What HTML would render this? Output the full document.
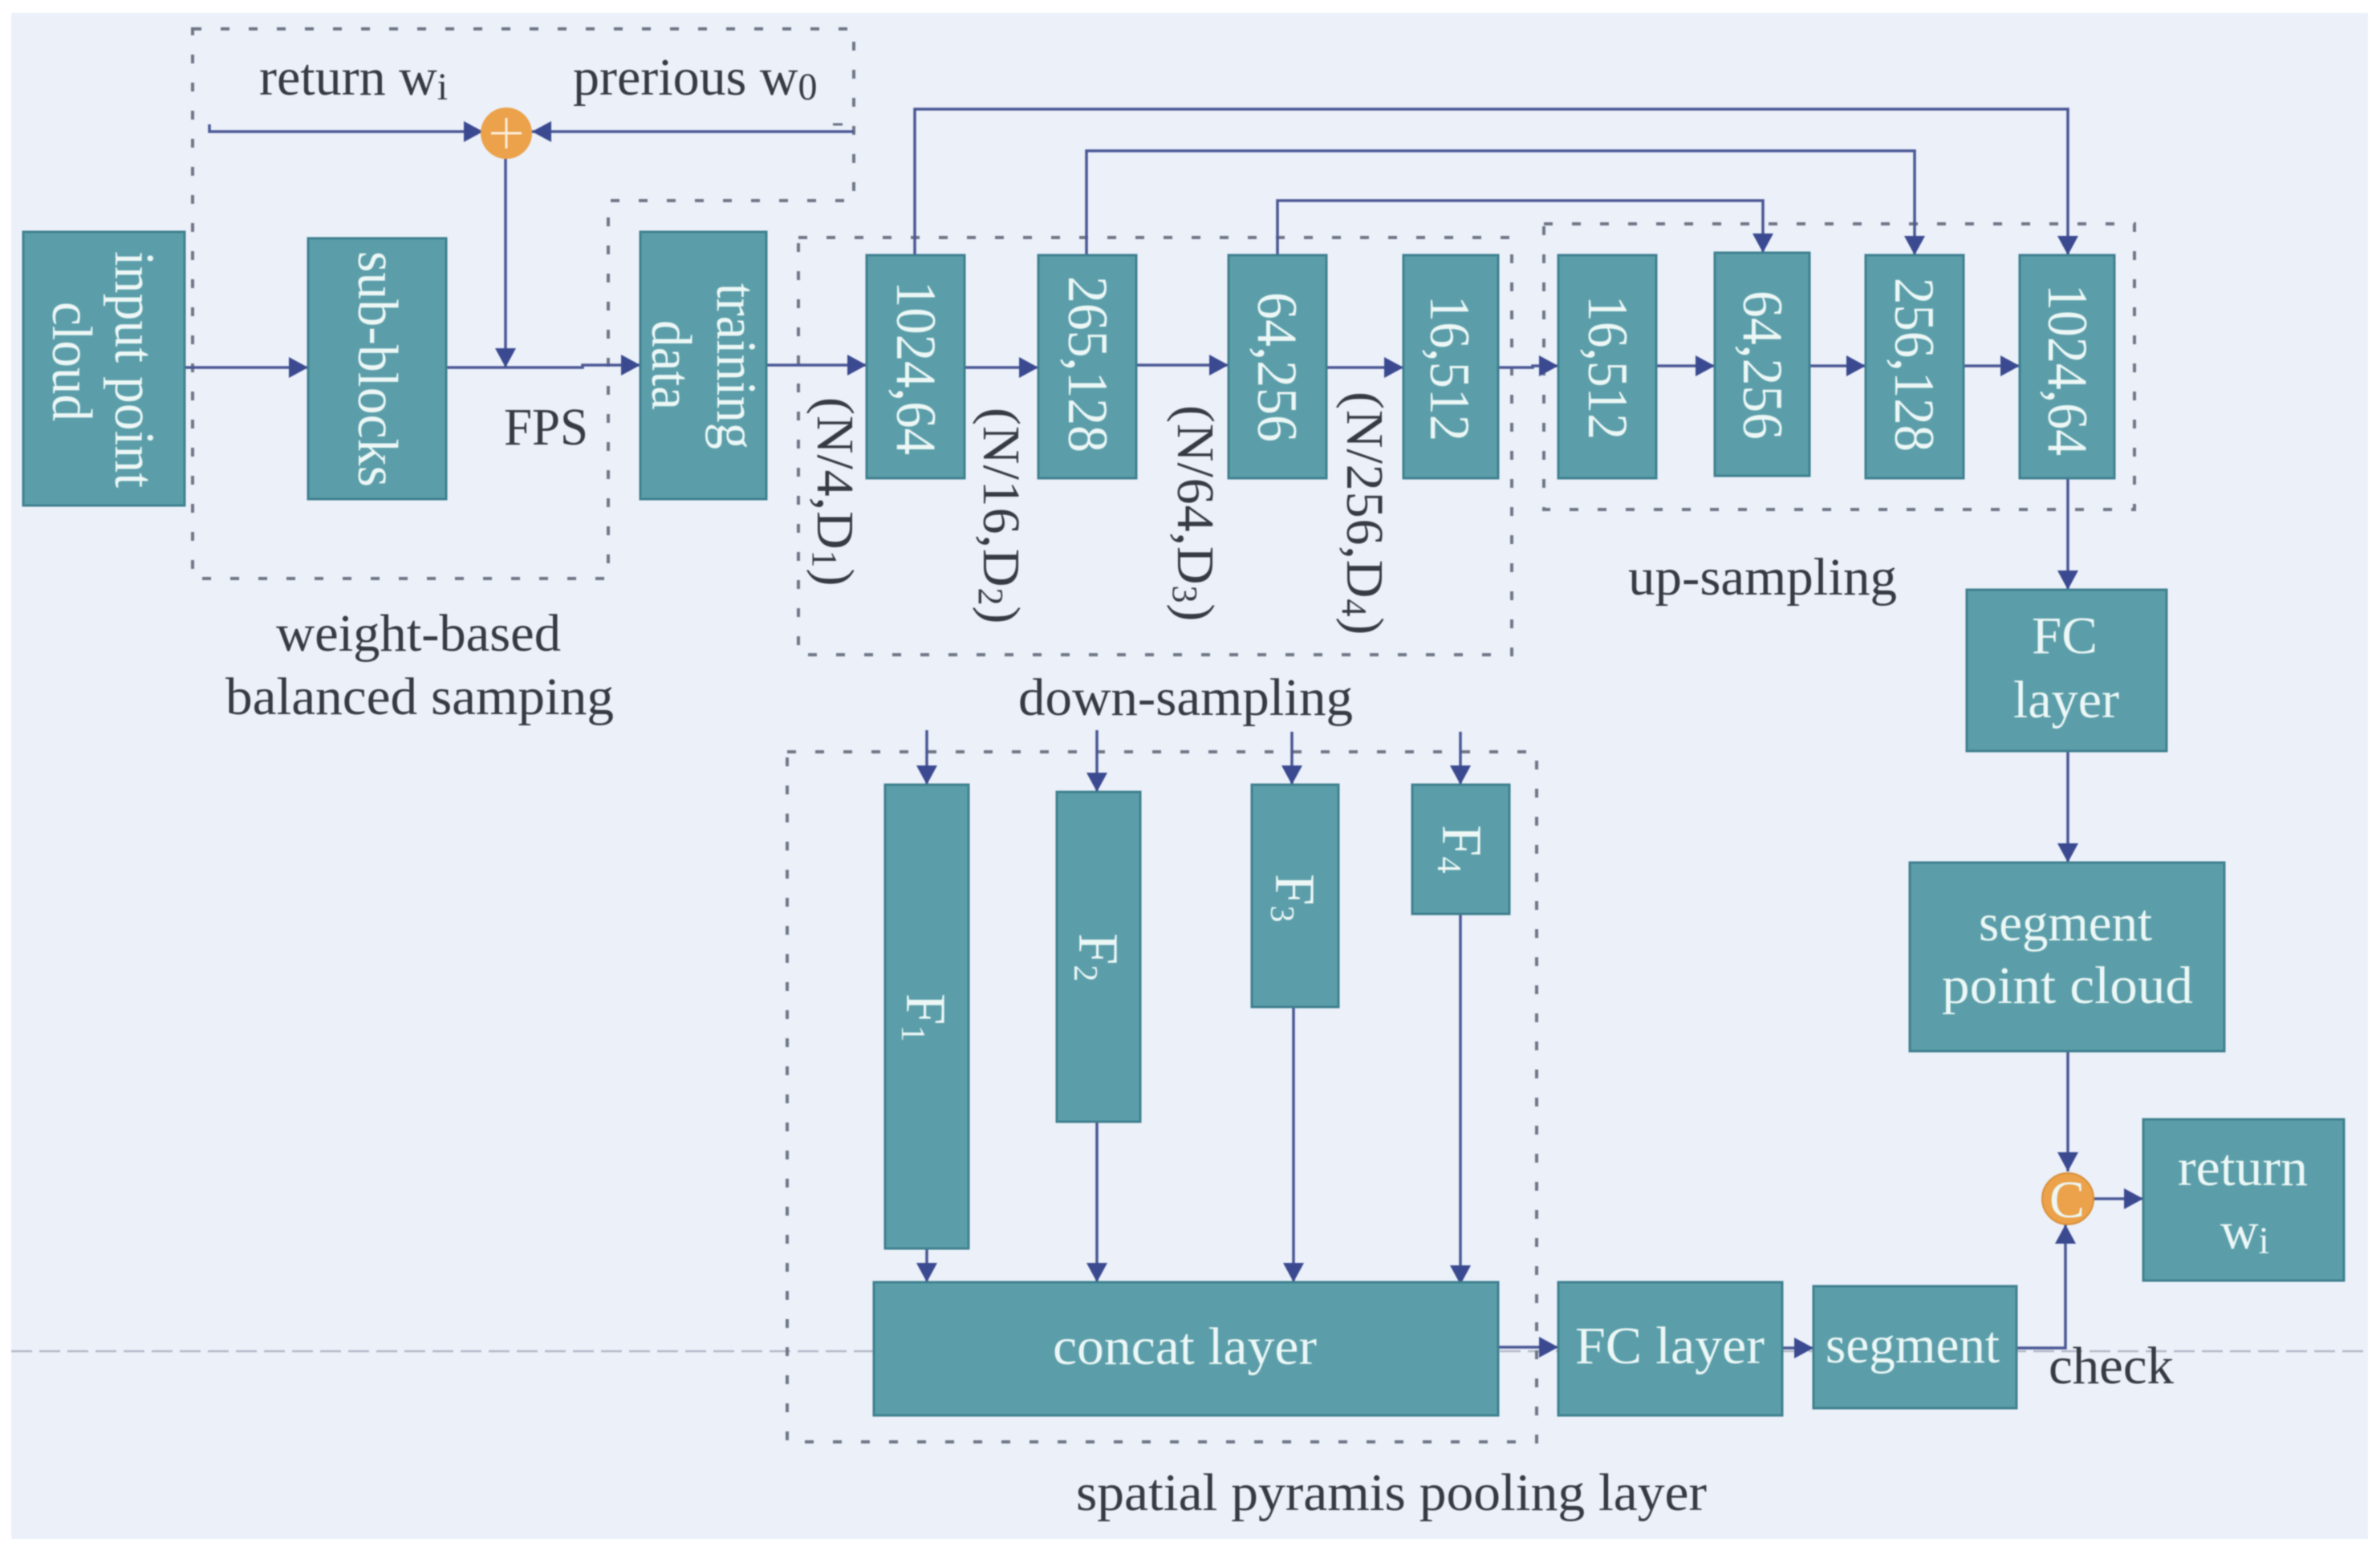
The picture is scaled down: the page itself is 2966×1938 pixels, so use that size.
<!DOCTYPE html>
<html><head><meta charset="utf-8"><style>
html,body{margin:0;padding:0;background:#fff}
svg{display:block;filter:blur(0.8px)}
text{font-family:"Liberation Serif",serif;font-size:66px}
.k{fill:#363a42}
.w{fill:#ecf7f6}
.r{font-size:71px}
.n{letter-spacing:0.9px}
.b{fill:#5b9ea9;stroke:#3f8090;stroke-width:3}
.l{fill:none;stroke:#4a5795;stroke-width:3.5}
.d{fill:none;stroke:#6f7686;stroke-width:4;stroke-dasharray:11 24}
.a{fill:#3b4a90}
</style></head><body>
<svg width="2966" height="1938" viewBox="0 0 2966 1938" xmlns="http://www.w3.org/2000/svg">
<rect x="14" y="16" width="2937" height="1902" fill="#ebf0f9"/>
<line x1="14" y1="1684" x2="2951" y2="1684" stroke="#b4b8c6" stroke-width="2.5" stroke-dasharray="26 9"/>

<!-- dashed groups -->
<path class="d" d="M240 36H1064V250H758V721H240Z"/>
<path d="M1038 155H1050" stroke="#6a7182" stroke-width="3"/>
<rect class="d" x="995" y="296" width="889" height="520"/>
<rect class="d" x="1924" y="279" width="736" height="356"/>
<rect class="d" x="981" y="937" width="934" height="860"/>

<!-- connectors -->
<path class="l" d="M261 155V164H602"/>
<path class="l" d="M1064 164H663"/>
<path class="l" d="M630 198V458"/>
<path class="l" d="M230 458H384"/>
<path class="l" d="M556 458H726V455H798"/>
<path class="l" d="M955 455H1080"/>
<path class="l" d="M1202 458H1294"/>
<path class="l" d="M1416 455H1531"/>
<path class="l" d="M1653 458H1749"/>
<path class="l" d="M1867 458H1910V456H1942"/>
<path class="l" d="M2064 456H2137"/>
<path class="l" d="M2255 456H2325"/>
<path class="l" d="M2447 456H2517"/>
<path class="l" d="M1140 318V136H2577V318"/>
<path class="l" d="M1354 318V188H2386V318"/>
<path class="l" d="M1592 318V250H2197V315"/>
<path class="l" d="M2577 596V735"/>
<path class="l" d="M2577 936V1075"/>
<path class="l" d="M2577 1310V1460"/>
<path class="l" d="M2609 1494H2671"/>
<path class="l" d="M2513 1680H2574V1526"/>
<path class="l" d="M2221 1680H2260"/>
<path class="l" d="M1867 1679H1942"/>
<path class="l" d="M1155 910V978"/>
<path class="l" d="M1367 910V987"/>
<path class="l" d="M1610 912V978"/>
<path class="l" d="M1820 912V978"/>
<path class="l" d="M1155 1556V1598"/>
<path class="l" d="M1367 1398V1598"/>
<path class="l" d="M1612 1255V1598"/>
<path class="l" d="M1820 1139V1601"/>

<!-- arrowheads -->
<g class="a">
<polygon points="578,151 602,164 578,177"/>
<polygon points="687,151 663,164 687,177"/>
<polygon points="617,434 630,458 643,434"/>
<polygon points="360,445 384,458 360,471"/>
<polygon points="774,442 798,455 774,468"/>
<polygon points="1056,442 1080,455 1056,468"/>
<polygon points="1270,445 1294,458 1270,471"/>
<polygon points="1507,442 1531,455 1507,468"/>
<polygon points="1725,445 1749,458 1725,471"/>
<polygon points="1918,443 1942,456 1918,469"/>
<polygon points="2113,443 2137,456 2113,469"/>
<polygon points="2301,443 2325,456 2301,469"/>
<polygon points="2493,443 2517,456 2493,469"/>
<polygon points="2564,294 2577,318 2590,294"/>
<polygon points="2373,294 2386,318 2399,294"/>
<polygon points="2184,291 2197,315 2210,291"/>
<polygon points="2564,711 2577,735 2590,711"/>
<polygon points="2564,1051 2577,1075 2590,1051"/>
<polygon points="2564,1436 2577,1460 2590,1436"/>
<polygon points="2561,1550 2574,1526 2587,1550"/>
<polygon points="2647,1481 2671,1494 2647,1507"/>
<polygon points="2236,1667 2260,1680 2236,1693"/>
<polygon points="1918,1666 1942,1679 1918,1692"/>
<polygon points="1142,954 1155,978 1168,954"/>
<polygon points="1354,963 1367,987 1380,963"/>
<polygon points="1597,954 1610,978 1623,954"/>
<polygon points="1807,954 1820,978 1833,954"/>
<polygon points="1142,1574 1155,1598 1168,1574"/>
<polygon points="1354,1574 1367,1598 1380,1574"/>
<polygon points="1599,1574 1612,1598 1625,1574"/>
<polygon points="1807,1577 1820,1601 1833,1577"/>
</g>

<!-- boxes -->
<rect class="b" x="29" y="289" width="201" height="341"/>
<rect class="b" x="384" y="297" width="172" height="325"/>
<rect class="b" x="798" y="289" width="157" height="333"/>
<rect class="b" x="1080" y="318" width="122" height="278"/>
<rect class="b" x="1294" y="318" width="122" height="278"/>
<rect class="b" x="1531" y="318" width="122" height="278"/>
<rect class="b" x="1749" y="318" width="118" height="278"/>
<rect class="b" x="1942" y="318" width="122" height="278"/>
<rect class="b" x="2137" y="315" width="118" height="278"/>
<rect class="b" x="2325" y="318" width="122" height="278"/>
<rect class="b" x="2517" y="318" width="118" height="278"/>
<rect class="b" x="2451" y="735" width="249" height="201"/>
<rect class="b" x="2380" y="1075" width="392" height="235"/>
<rect class="b" x="2671" y="1395" width="250" height="201"/>
<rect class="b" x="1103" y="978" width="104" height="578"/>
<rect class="b" x="1317" y="987" width="104" height="411"/>
<rect class="b" x="1560" y="978" width="108" height="277"/>
<rect class="b" x="1760" y="978" width="121" height="161"/>
<rect class="b" x="1089" y="1598" width="778" height="166"/>
<rect class="b" x="1942" y="1598" width="279" height="166"/>
<rect class="b" x="2260" y="1603" width="253" height="152"/>

<!-- circles -->
<circle cx="631" cy="166" r="32" fill="#eba24a"/>
<path d="M631 147V185M612 166H650" stroke="#fbeedd" stroke-width="3" fill="none"/>
<circle cx="2577" cy="1494" r="32" fill="#eba24a" stroke="#d98f38" stroke-width="2"/>
<text class="w" x="2554" y="1517" textLength="44" lengthAdjust="spacingAndGlyphs">C</text>

<!-- dark labels -->
<g class="k">
<text x="323" y="118">return w<tspan font-size="48" dy="6">i</tspan></text>
<text x="714" y="118">prerious w<tspan font-size="48" dy="6">0</tspan></text>
<text x="628" y="554" textLength="105" lengthAdjust="spacingAndGlyphs">FPS</text>
<text x="344" y="811" textLength="355" lengthAdjust="spacingAndGlyphs">weight-based</text>
<text x="281" y="890" textLength="484" lengthAdjust="spacingAndGlyphs">balanced samping</text>
<text x="1269" y="891" textLength="417" lengthAdjust="spacingAndGlyphs">down-sampling</text>
<text x="2029" y="741" textLength="335" lengthAdjust="spacingAndGlyphs">up-sampling</text>
<text x="1341" y="1882" textLength="786" lengthAdjust="spacingAndGlyphs">spatial pyramis pooling layer</text>
<text x="2553" y="1724" textLength="156" lengthAdjust="spacingAndGlyphs">check</text>
<text class="n" transform="translate(1019,495) rotate(90)">(N/4,D<tspan font-size="44" dy="6">1</tspan><tspan dy="-6">)</tspan></text>
<text class="n" transform="translate(1226,508) rotate(90)">(N/16,D<tspan font-size="44" dy="6">2</tspan><tspan dy="-6">)</tspan></text>
<text class="n" transform="translate(1468,505) rotate(90)">(N/64,D<tspan font-size="44" dy="6">3</tspan><tspan dy="-6">)</tspan></text>
<text class="n" transform="translate(1679,488) rotate(90)">(N/256,D<tspan font-size="44" dy="6">4</tspan><tspan dy="-6">)</tspan></text>
</g>

<!-- white labels -->
<g class="w">
<text class="r" transform="translate(144,313) rotate(90)" textLength="295" lengthAdjust="spacingAndGlyphs">input point</text>
<text class="r" transform="translate(66,376) rotate(90)" textLength="149" lengthAdjust="spacingAndGlyphs">cloud</text>
<text class="r" transform="translate(447,313) rotate(90)" textLength="294" lengthAdjust="spacingAndGlyphs">sub-blocks</text>
<text class="r" transform="translate(894,353) rotate(90)" textLength="207" lengthAdjust="spacingAndGlyphs">training</text>
<text class="r" transform="translate(813,399) rotate(90)" textLength="112" lengthAdjust="spacingAndGlyphs">data</text>
<text class="r" transform="translate(1118,350) rotate(90)" textLength="217" lengthAdjust="spacingAndGlyphs">1024,64</text>
<text class="r" transform="translate(1332,344) rotate(90)" textLength="220" lengthAdjust="spacingAndGlyphs">265,128</text>
<text class="r" transform="translate(1568,364) rotate(90)" textLength="187" lengthAdjust="spacingAndGlyphs">64,256</text>
<text class="r" transform="translate(1783,368) rotate(90)" textLength="182" lengthAdjust="spacingAndGlyphs">16,512</text>
<text class="r" transform="translate(1980,368) rotate(90)" textLength="180" lengthAdjust="spacingAndGlyphs">16,512</text>
<text class="r" transform="translate(2173,362) rotate(90)" textLength="186" lengthAdjust="spacingAndGlyphs">64,256</text>
<text class="r" transform="translate(2362,346) rotate(90)" textLength="217" lengthAdjust="spacingAndGlyphs">256,128</text>
<text class="r" transform="translate(2553,354) rotate(90)" textLength="214" lengthAdjust="spacingAndGlyphs">1024,64</text>
<text class="r" transform="translate(1130,1238) rotate(90)">F<tspan font-size="42" dy="6">1</tspan></text>
<text class="r" transform="translate(1345,1163) rotate(90)">F<tspan font-size="42" dy="6">2</tspan></text>
<text class="r" transform="translate(1590,1089) rotate(90)">F<tspan font-size="42" dy="6">3</tspan></text>
<text class="r" transform="translate(1798,1028) rotate(90)">F<tspan font-size="42" dy="6">4</tspan></text>
<text x="2532" y="814" textLength="82" lengthAdjust="spacingAndGlyphs">FC</text>
<text x="2509" y="894" textLength="132" lengthAdjust="spacingAndGlyphs">layer</text>
<text x="2466" y="1172" textLength="216" lengthAdjust="spacingAndGlyphs">segment</text>
<text x="2420" y="1250" textLength="313" lengthAdjust="spacingAndGlyphs">point cloud</text>
<text x="2714" y="1477" textLength="162" lengthAdjust="spacingAndGlyphs">return</text>
<text x="2767" y="1556">w<tspan font-size="48" dy="6">i</tspan></text>
<text x="1312" y="1700" textLength="329" lengthAdjust="spacingAndGlyphs">concat layer</text>
<text x="1963" y="1699" textLength="236" lengthAdjust="spacingAndGlyphs">FC layer</text>
<text x="2275" y="1698" textLength="217" lengthAdjust="spacingAndGlyphs">segment</text>
</g>
</svg>
</body></html>
